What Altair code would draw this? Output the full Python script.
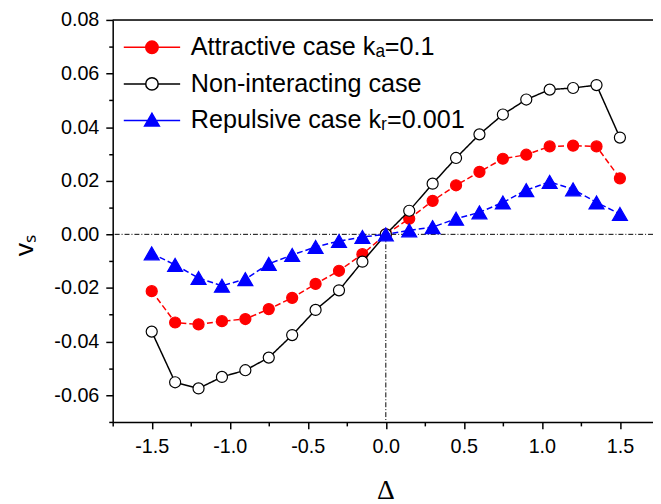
import altair as alt
import pandas as pd

# ---- data ----
delta = [-1.5, -1.35, -1.2, -1.05, -0.9, -0.75, -0.6, -0.45, -0.3, -0.15, 0.0,
         0.15, 0.3, 0.45, 0.6, 0.75, 0.9, 1.05, 1.2, 1.35, 1.5]
attractive = [-0.0212, -0.0329, -0.0336, -0.0324, -0.0316, -0.0279, -0.0237, -0.0185,
              -0.0136, -0.0074, 0.0, 0.0058, 0.0125, 0.0183, 0.0233, 0.0282, 0.0297,
              0.0328, 0.0331, 0.0328, 0.0209]
noninteracting = [-0.0363, -0.0552, -0.0575, -0.0532, -0.0507, -0.0460, -0.0376, -0.0282,
                  -0.0209, -0.0102, 0.0, 0.0088, 0.0189, 0.0285, 0.0373, 0.0447, 0.0503,
                  0.0540, 0.0546, 0.0557, 0.0361]
repulsive = [-0.0071, -0.0114, -0.0163, -0.0192, -0.0167, -0.0110, -0.0077, -0.0047,
             -0.0025, -0.0010, 0.0, 0.0015, 0.0027, 0.0058, 0.0082, 0.0119, 0.0165,
             0.0196, 0.0168, 0.0119, 0.0076]

series_names = ["Attractive case kₐ=0.1", "Non-interacting case", "Repulsive case kᵣ=0.001"]
series_values = [attractive, noninteracting, repulsive]
series_stroke = ["#ff0000", "#000000", "#0000ff"]
series_fill = ["#ff0000", "#ffffff", "#0000ff"]
series_shape = ["circle", "circle", "triangle-up"]
series_size = [125, 125, 230]
series_dash = [[6, 3], [1, 0], [6, 3]]

x_ticks = [-1.75, -1.5, -1.25, -1.0, -0.75, -0.5, -0.25, 0.0, 0.25, 0.5, 0.75, 1.0, 1.25, 1.5]
y_ticks = [-0.07, -0.06, -0.05, -0.04, -0.03, -0.02, -0.01, 0.0, 0.01, 0.02, 0.03,
           0.04, 0.05, 0.06, 0.07, 0.08]
x_domain = [-1.75, 1.712]
y_domain = [-0.07, 0.08]
zero_level = [0.0]

# legend symbols: line - marker - line (custom paths)
legend_paths = [
    "M-3.17,0H-0.7M0.7,0H3.17M0.7,0A0.7,0.7,0,1,1,-0.7,0A0.7,0.7,0,1,1,0.7,0",
    "M-3.17,0H-0.7M0.7,0H3.17M0.7,0A0.7,0.7,0,1,1,-0.7,0A0.7,0.7,0,1,1,0.7,0",
    "M-3.17,0H-0.46M0.46,0H3.17M0,-0.8L0.83,0.64L-0.83,0.64Z",
]

FONT = "Liberation Sans"

rows = []
for name, vals in zip(series_names, series_values):
    for d, v in zip(delta, vals):
        rows.append({"delta": d, "v": v, "series": name})
df = pd.DataFrame(rows)

xscale = alt.Scale(domain=x_domain, nice=False, zero=False)
yscale = alt.Scale(domain=y_domain, nice=False, zero=False)

xaxis = alt.Axis(
    values=x_ticks,
    labelExpr="abs(round(datum.value*4)) % 2 == 1 ? '' : replace(format(datum.value, '.1f'), '\u2212', '-')",
    tickSize={"condition": {"test": "abs(round(datum.value*4)) % 2 == 1", "value": 4}, "value": 7},
    grid=False, domainColor="black", domainWidth=1.5, tickColor="black", tickWidth=1.5,
    labelFont=FONT, labelFontSize=20, labelColor="black", labelPadding=8, labelFlush=False,
    labelOverlap=False,
    titleFont="Liberation Serif", titleFontSize=28, titleFontWeight="normal", titleColor="black",
    titleX=276, titleY=78, titleBaseline="alphabetic", titleAlign="center",
)
yaxis = alt.Axis(
    values=y_ticks,
    labelExpr="abs(round(datum.value*100)) % 2 == 1 ? '' : replace(format(datum.value, '.2f'), '\u2212', '-')",
    tickSize={"condition": {"test": "abs(round(datum.value*100)) % 2 == 1", "value": 4}, "value": 7},
    grid=False, domainColor="black", domainWidth=1.5, tickColor="black", tickWidth=1.5,
    labelFont=FONT, labelFontSize=20, labelColor="black", labelPadding=7, labelFlush=False,
    labelOverlap=False,
    titleFont=FONT, titleFontSize=27, titleFontWeight="normal", titleColor="black",
    titleX=-81, titleY=228, titleBaseline="alphabetic", titleAlign="center", titleAngle=270,
)

X = alt.X("delta:Q", scale=xscale, axis=xaxis, title="Δ")
Y = alt.Y("v:Q", scale=yscale, axis=yaxis, title="vₛ")

layers = []

# zero reference lines (dash-dot)
hz = alt.Chart(pd.DataFrame({"v": zero_level})).mark_rule(
    color="black", strokeWidth=1, strokeDash=[5, 2, 1, 2]).encode(y=Y)
vz = alt.Chart(pd.DataFrame({"delta": zero_level, "v": zero_level, "v2": [y_domain[0]]})).mark_rule(
    color="black", strokeWidth=1, strokeDash=[5, 2, 1, 2]).encode(x=X, y=Y, y2="v2:Q")
top = alt.Chart(pd.DataFrame({"v": [y_domain[1]]})).mark_rule(
    color="black", strokeWidth=1.5).encode(y=Y)
layers += [hz, vz, top]

for name, stroke, fill, shape, size, dash in zip(series_names, series_stroke, series_fill,
                                                   series_shape, series_size, series_dash):
    base = alt.Chart(df).transform_filter(alt.datum.series == name)
    layers.append(base.mark_line(color=stroke, strokeWidth=1.5, strokeDash=dash).encode(x=X, y=Y))
    layers.append(base.mark_point(shape=shape, size=size, filled=True, fill=fill, stroke=stroke,
                                  strokeWidth=1.2, opacity=1, fillOpacity=1).encode(x=X, y=Y))

leg = alt.Legend(
    title=None, orient="none", legendX=27, legendY=15, padding=0,
    symbolSize=324, symbolStrokeWidth=1.5, symbolOpacity=1, symbolFillColor="white",
    labelFont=FONT, labelFontSize=25.5, labelColor="black", labelOffset=26.5, labelLimit=500,
    rowPadding=10,
)
legend_layer = alt.Chart(df).mark_point(opacity=0).encode(
    x=X, y=Y,
    shape=alt.Shape("series:N", scale=alt.Scale(domain=series_names, range=legend_paths), legend=leg),
    fill=alt.Fill("series:N", scale=alt.Scale(domain=series_names, range=series_fill), legend=leg),
    stroke=alt.Stroke("series:N", scale=alt.Scale(domain=series_names, range=series_stroke), legend=leg),
)
layers.append(legend_layer)

chart = alt.layer(*layers).properties(
    width=547, height=407,
    autosize=alt.AutoSizeParams(type="none"),
    padding={"left": 106, "top": 9, "right": 0, "bottom": 80},
).configure_view(stroke=None).configure(background="white")

chart.save("out.html", embed_options={"renderer": "svg", "actions": False})
